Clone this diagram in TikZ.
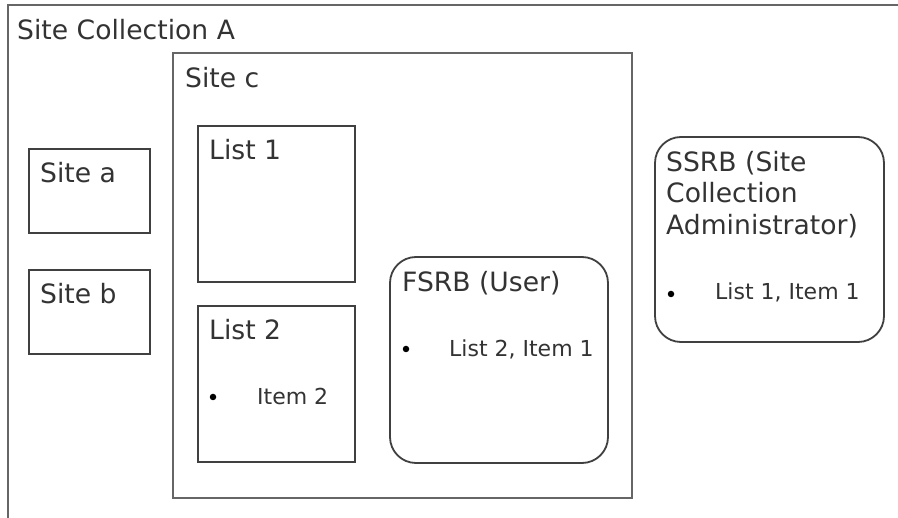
\documentclass[tikz,border=0pt]{standalone}
\usepackage{fontspec}
\setmainfont{DejaVu Sans}
\begin{document}
\begin{tikzpicture}[x=1pt,y=-1pt,
  lbl/.style={anchor=base west,inner sep=0pt,font=\fontsize{26.6}{31}\selectfont,text=black!80},
  itm/.style={anchor=base west,inner sep=0pt,font=\fontsize{22}{26}\selectfont,text=black!80},
  bul/.style={circle,fill=black,inner sep=0pt,minimum size=6.5pt},
  outerbox/.style={draw=black!60,line width=2.2pt},
  box/.style={draw=black!75,line width=2pt},
  rbox/.style={draw=black!75,line width=1.8pt,rounded corners=26pt}]
\clip (0,0) rectangle (898,518);
\fill[white] (0,0) rectangle (898,518);
% containers
\draw[outerbox] (8,530) -- (8,5) -- (910,5);
\coordinate (collA) at (8,5);
\node[lbl] (tcollA) at (17,40) {Site Collection A};
\draw[outerbox] (173,53) rectangle (632,498);
\coordinate (sitec) at (173,53);
\node[lbl] (tsitec) at (185,88) {Site c};
% sites
\draw[box] (29,149) rectangle (150,233);
\node[lbl] (tsitea) at (40,183) {Site a};
\draw[box] (29,270) rectangle (150,354);
\node[lbl] (tsiteb) at (40,304) {Site b};
% lists
\draw[box] (198,126) rectangle (355,282);
\node[lbl] (tlist1) at (209,160) {List 1};
\draw[box] (198,306) rectangle (355,462);
\node[lbl] (tlist2) at (209,340) {List 2};
\node[bul] (b1) at (213,397) {};
\node[itm] (item2) at (257,405) {Item 2};
% FSRB
\draw[rbox] (390,257) rectangle (608,463);
\node[lbl] (tfsrb) at (402,292) {FSRB (User)};
\node[bul] (b2) at (406,349) {};
\node[itm] (ifsrb) at (449,357) {List 2, Item 1};
% SSRB
\draw[rbox] (655,137) rectangle (884,342);
\node[lbl] (tssrb1) at (666,172) {SSRB (Site};
\node[lbl] (tssrb2) at (666,203) {Collection};
\node[lbl] (tssrb3) at (666,235) {Administrator)};
\node[bul] (b3) at (671,294) {};
\node[itm] (issrb) at (715,300) {List 1, Item 1};
\end{tikzpicture}
\end{document}
